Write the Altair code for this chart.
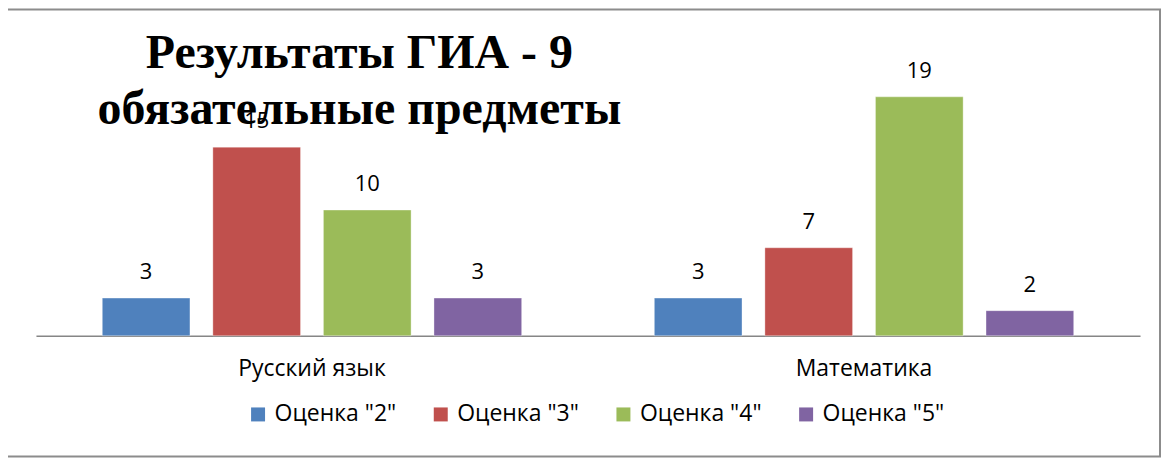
import altair as alt
import pandas as pd

subjects = ["Русский язык", "Математика"]
grades = ['Оценка "2"', 'Оценка "3"', 'Оценка "4"', 'Оценка "5"']
russian = [3, 15, 10, 3]
math = [3, 7, 19, 2]
colors = ["#4F81BD", "#C0504D", "#9BBB59", "#8064A2"]
title_lines = "Результаты ГИА - 9\nобязательные предметы"

rows = []
for subj, vals in zip(subjects, [russian, math]):
    for g, v in zip(grades, vals):
        rows.append({"subject": subj, "grade": g, "value": v})
df = pd.DataFrame(rows)

FONT = "Open Sans"
FS = 22

base = alt.Chart(df).encode(
    x=alt.X("subject:N", sort=subjects, title=None,
            scale=alt.Scale(paddingInner=0, paddingOuter=0),
            axis=alt.Axis(labelAngle=0, ticks=False, domainColor="#868686", domainWidth=1.5,
                          labelFontSize=23, labelFont=FONT, labelColor="#000000",
                          labelPadding=22, grid=False)),
    xOffset=alt.XOffset("grade:N", sort=grades,
                        scale=alt.Scale(paddingInner=0.207, paddingOuter=0.6)),
    y=alt.Y("value:Q", scale=alt.Scale(domain=[0, 20], nice=False), axis=None),
)

bars = base.mark_bar(stroke="#ffffff", strokeOpacity=0.35, strokeWidth=1).encode(
    color=alt.Color("grade:N", sort=grades,
                    scale=alt.Scale(domain=grades, range=colors),
                    legend=alt.Legend(title=None, orient="none", legendX=211, legendY=319,
                                      direction="horizontal", symbolType="square",
                                      symbolSize=196, symbolStrokeWidth=0,
                                      labelFontSize=23, labelFont=FONT, labelColor="#000000",
                                      labelOffset=5, columnPadding=33))
)

labels = base.mark_text(baseline="alphabetic", dy=-19, fontSize=FS, font=FONT,
                        color="#000000").encode(text="value:Q")

border_df = pd.DataFrame({"k": [0]})
border = alt.Chart(border_df).mark_rect(filled=False, stroke="#8c8c8c", strokeWidth=2).encode(
    x=alt.value(-29), x2=alt.value(1126), y=alt.value(-75), y2=alt.value(373)
)

title_df = pd.DataFrame({"t": [title_lines]})
title = alt.Chart(title_df).mark_text(
    lineBreak="\n", lineHeight=56, align="center", baseline="alphabetic",
    font="Liberation Serif", fontWeight="bold", fontSize=48, color="#000000"
).encode(text="t:N", x=alt.value(324), y=alt.value(-16))

chart = alt.layer(border, bars, labels, title).properties(
    width=1106, height=252,
    padding={"left": 28, "top": 76, "right": 22, "bottom": 125},
    autosize=alt.AutoSizeParams(type="none"),
    background="#ffffff",
).configure_view(stroke=None)

chart.save("out.html", embed_options={"renderer": "svg", "actions": False})
